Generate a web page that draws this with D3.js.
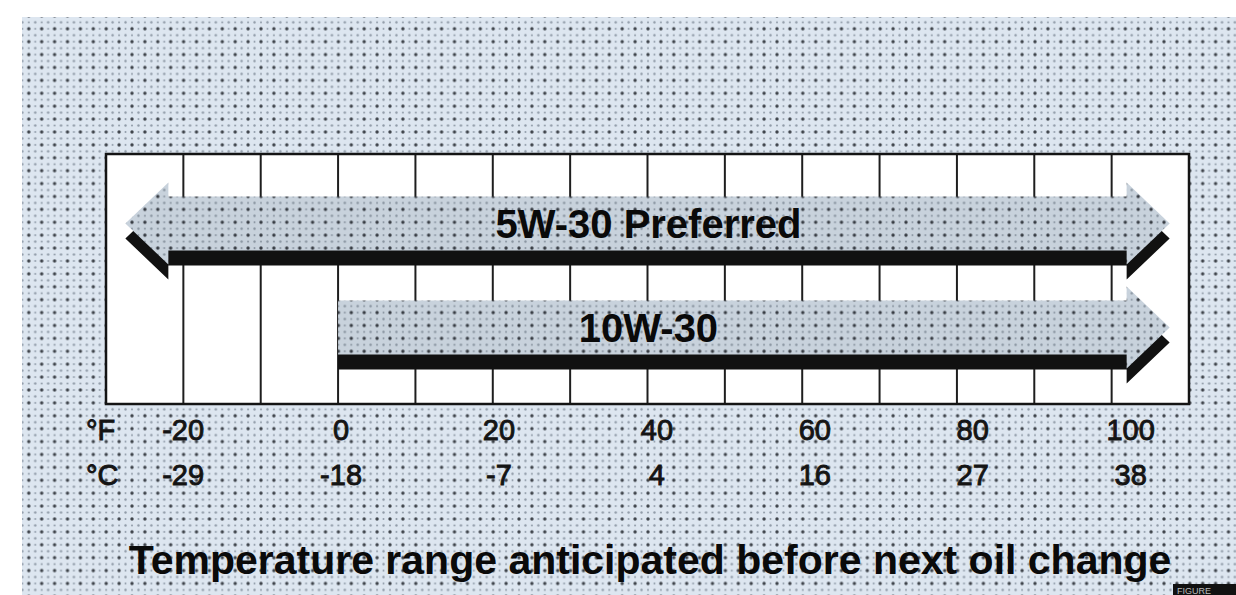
<!DOCTYPE html>
<html>
<head>
<meta charset="utf-8">
<script src="https://cdn.jsdelivr.net/npm/d3@7/dist/d3.min.js"></script>
<style>
  html, body { margin: 0; padding: 0; background: #ffffff; }
  svg { display: block; }
</style>
</head>
<body>
<svg id="chart" width="1236" height="595"></svg>
<script>
// ---------- data ----------
const oilGrades = ["5W-30 Preferred", "10W-30"];
const rangeLowF = [-20, 0];
const rangeHighF = [100, 100];
const lowOpenEnded = [true, false];
const highOpenEnded = [true, true];

const fahrenheitTicks = [-20, 0, 20, 40, 60, 80, 100];
const celsiusLabels = ["-29", "-18", "-7", "4", "16", "27", "38"];
const gridLinesF = [-20, -10, 0, 10, 20, 30, 40, 50, 60, 70, 80, 90, 100];
const chartTitle = "Temperature range anticipated before next oil change";

// ---------- setup ----------
const W = 1236, H = 595;
const svg = d3.select("#chart");
const font = "'Liberation Sans', Arial, Helvetica, sans-serif";

const box = { left: 106, right: 1189, top: 154, bottom: 404 };
const x = d3.scaleLinear().domain([-30, 110]).range([box.left, box.right]);
// printed tick labels sit slightly spread relative to the grid in the original
const xLabel = d3.scaleLinear().domain([0, 100]).range([x(0) + 3, x(100) + 19]);
const y = d3.scalePoint().domain(oilGrades).range([223.5, 327.5]);

// ---------- patterns ----------
const defs = svg.append("defs");
function dotPattern(id, base, dark, light) {
  const p = defs.append("pattern").attr("id", id)
    .attr("patternUnits", "userSpaceOnUse").attr("width", 12.9).attr("height", 12.9);
  p.append("rect").attr("width", 12.9).attr("height", 12.9).attr("fill", base);
  p.append("circle").attr("cx", 3).attr("cy", 3).attr("r", 1.7).attr("fill", dark);
  p.append("circle").attr("cx", 9.45).attr("cy", 3).attr("r", 1.0).attr("fill", light);
  p.append("circle").attr("cx", 3).attr("cy", 9.45).attr("r", 1.0).attr("fill", light);
  p.append("circle").attr("cx", 9.45).attr("cy", 9.45).attr("r", 1.2).attr("fill", light);
}
dotPattern("bgDots", "#dde6f0", "#3e434a", "#8f9aa7");
dotPattern("arrowDots", "#c8d2dc", "#363b42", "#87929e");

// background
svg.append("rect").attr("x", 22).attr("y", 17).attr("width", W - 22).attr("height", H - 17)
  .attr("fill", "url(#bgDots)");

// plot box
svg.append("rect").attr("x", box.left).attr("y", box.top)
  .attr("width", box.right - box.left).attr("height", box.bottom - box.top)
  .attr("fill", "#ffffff");

svg.append("g").selectAll("line").data(gridLinesF).join("line")
  .attr("x1", d => x(d)).attr("x2", d => x(d))
  .attr("y1", box.top).attr("y2", box.bottom)
  .attr("stroke", "#1e1e1e").attr("stroke-width", 2);

svg.append("rect").attr("x", box.left).attr("y", box.top)
  .attr("width", box.right - box.left).attr("height", box.bottom - box.top)
  .attr("fill", "none").attr("stroke", "#141414").attr("stroke-width", 2.5);

// ---------- arrows ----------
const bodyHalf = 27, headHalf = 41, headLen = 43, headGap = 15, shadowDy = 15;
const line = d3.line();
function arrowPoints(i) {
  const cy = y(oilGrades[i]);
  const bodyL = lowOpenEnded[i] ? x(rangeLowF[i]) - headGap : x(rangeLowF[i]);
  const bodyR = highOpenEnded[i] ? x(rangeHighF[i]) + headGap : x(rangeHighF[i]);
  const pts = [];
  if (lowOpenEnded[i]) pts.push([bodyL - headLen, cy], [bodyL, cy - headHalf]);
  pts.push([bodyL, cy - bodyHalf], [bodyR, cy - bodyHalf]);
  if (highOpenEnded[i]) pts.push([bodyR, cy - headHalf], [bodyR + headLen, cy], [bodyR, cy + headHalf]);
  pts.push([bodyR, cy + bodyHalf], [bodyL, cy + bodyHalf]);
  if (lowOpenEnded[i]) pts.push([bodyL, cy + headHalf]);
  return pts;
}

const arrows = svg.append("g").selectAll("g").data(d3.range(oilGrades.length)).join("g");
arrows.append("path")
  .attr("d", i => line(arrowPoints(i)) + "Z")
  .attr("transform", `translate(0,${shadowDy})`)
  .attr("fill", "#111111");
arrows.append("path")
  .attr("d", i => line(arrowPoints(i)) + "Z")
  .attr("fill", "url(#arrowDots)");
arrows.append("text")
  .attr("x", (x(-20) + x(100)) / 2 + 1)
  .attr("y", i => y(oilGrades[i]) + 14)
  .attr("text-anchor", "middle")
  .attr("font-family", font).attr("font-weight", "bold").attr("font-size", 40)
  .attr("fill", "#0a0a0a")
  .text(i => oilGrades[i]);

// ---------- axis labels ----------
const rowF = 440, rowC = 485;
const labelStyle = sel => sel.attr("font-family", font).attr("font-size", 29)
  .attr("fill", "#141414").attr("stroke", "#141414").attr("stroke-width", 0.9);

svg.append("text").attr("x", 86).attr("y", rowF).text("°F").call(labelStyle);
svg.append("text").attr("x", 86).attr("y", rowC).text("°C").call(labelStyle);

svg.append("g").selectAll("text").data(fahrenheitTicks).join("text")
  .attr("x", d => xLabel(d)).attr("y", rowF)
  .attr("text-anchor", "middle").text(d => d).call(labelStyle);

svg.append("g").selectAll("text").data(celsiusLabels).join("text")
  .attr("x", (d, i) => xLabel(fahrenheitTicks[i])).attr("y", rowC)
  .attr("text-anchor", "middle").text(d => d).call(labelStyle);

// ---------- title ----------
svg.append("text").attr("x", 650).attr("y", 574)
  .attr("text-anchor", "middle")
  .attr("font-family", font).attr("font-weight", "bold").attr("font-size", 41)
  .attr("fill", "#0a0a0a")
  .text(chartTitle);

// corner tag
svg.append("rect").attr("x", 1173).attr("y", 584).attr("width", 63).attr("height", 11).attr("fill", "#111");
svg.append("text").attr("x", 1177).attr("y", 594).attr("font-family", font)
  .attr("font-size", 9).attr("fill", "#bbbbbb").text("FIGURE");
</script>
</body>
</html>
